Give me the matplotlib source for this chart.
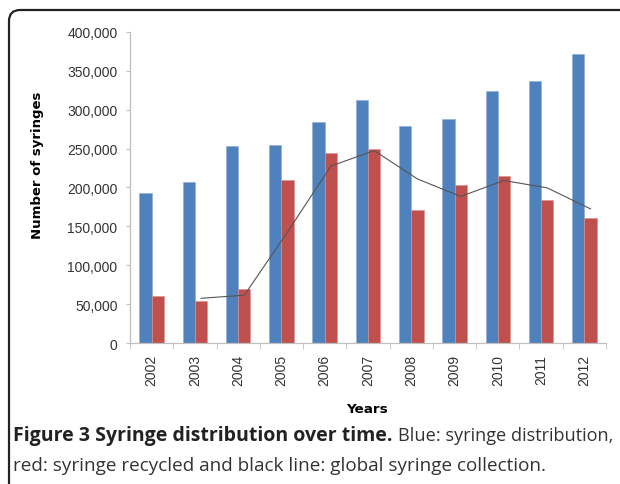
import matplotlib.pyplot as plt
from matplotlib.patches import FancyBboxPatch
import numpy as np

years = ["2002", "2003", "2004", "2005", "2006", "2007", "2008", "2009", "2010", "2011", "2012"]
distributed = [192500, 207500, 253500, 255000, 284000, 312500, 278500, 288500, 324000, 337500, 371500]
recycled = [61000, 53500, 69500, 209500, 244000, 249500, 171500, 203500, 214500, 184000, 161000]
# global collection has no value for 2002
collected = [np.nan, 57500, 61500, 143000, 227500, 247500, 211000, 188500, 209000, 199500, 172500]

BLUE = "#4f81bd"
RED = "#c0504d"
TXT = "#333333"
AXC = "#bfbfbf"

plt.rcParams["font.family"] = ["Liberation Sans", "DejaVu Sans"]

fig = plt.figure(figsize=(6.2, 4.85), dpi=100)
ax = fig.add_axes([130 / 620, 1 - 344 / 485, 476 / 620, 311 / 485])

x = np.arange(len(years))
w = 0.284
ax.bar(x - w / 2, distributed, w, color=BLUE, edgecolor="#8eaed6", linewidth=0.4)
ax.bar(x + w / 2, recycled, w, color=RED, edgecolor="#dc8f8d", linewidth=0.4)
ax.plot(x + w / 2, collected, color="#555555", lw=0.8)

ax.set_xlim(-0.5, len(years) - 0.5)
ax.set_ylim(0, 400000)
ax.set_yticks(np.arange(0, 400001, 50000))
ax.set_yticklabels([f"{v:,}" for v in range(0, 400001, 50000)])
ax.set_xticks(x)
ax.set_xticklabels(years, rotation=90)
ax.set_xticks(np.arange(-0.5, len(years)), minor=True)

for s in ["top", "right"]:
    ax.spines[s].set_visible(False)
for s in ["left", "bottom"]:
    ax.spines[s].set_color(AXC)
    ax.spines[s].set_linewidth(0.9)

ax.tick_params(axis="y", length=3, color=AXC, pad=6, labelsize=10, labelcolor=TXT)
ax.tick_params(axis="x", which="major", length=0, pad=8, labelsize=10, labelcolor=TXT)
ax.tick_params(axis="x", which="minor", length=4, color=AXC)

fig.text(38 / 620, 1 - 165 / 485, "Number of syringes", rotation=90, ha="center", va="center",
         fontsize=9.5, fontweight="bold", family="DejaVu Sans", color="black")
fig.text(367 / 620, 1 - 410 / 485, "Years", ha="center", va="center",
         fontsize=9.7, fontweight="bold", family="DejaVu Sans", color="black")

# frame with rounded corner running off the right and bottom edges
frame = FancyBboxPatch((9 / 620, -0.05), 1.2, 1 - 11 / 485 + 0.05,
                       boxstyle="round,pad=0,rounding_size=0.018",
                       transform=fig.transFigure, fill=False, edgecolor="#222222", lw=1.6,
                       mutation_aspect=620 / 485)
fig.patches.append(frame)

# caption: bold lead then regular text
cap_font = ["Open Sans", "DejaVu Sans"]
cy1 = 1 - 441 / 485
cy2 = 1 - 471 / 485
t1 = fig.text(13 / 620, cy1, "Figure 3 Syringe distribution over time.", fontsize=14,
              fontweight="bold", family=cap_font, color="#222222", va="baseline")
fig.canvas.draw()
bb = t1.get_window_extent(fig.canvas.get_renderer())
fig.text(bb.x1 / fig.bbox.width + 5 / 620, cy1, "Blue: syringe distribution,", fontsize=13.1,
         family=cap_font, color="#333333", va="baseline")
fig.text(13 / 620, cy2, "red: syringe recycled and black line: global syringe collection.",
         fontsize=13.6, family=cap_font, color="#333333", va="baseline")

fig.savefig("out.png", dpi=100)
